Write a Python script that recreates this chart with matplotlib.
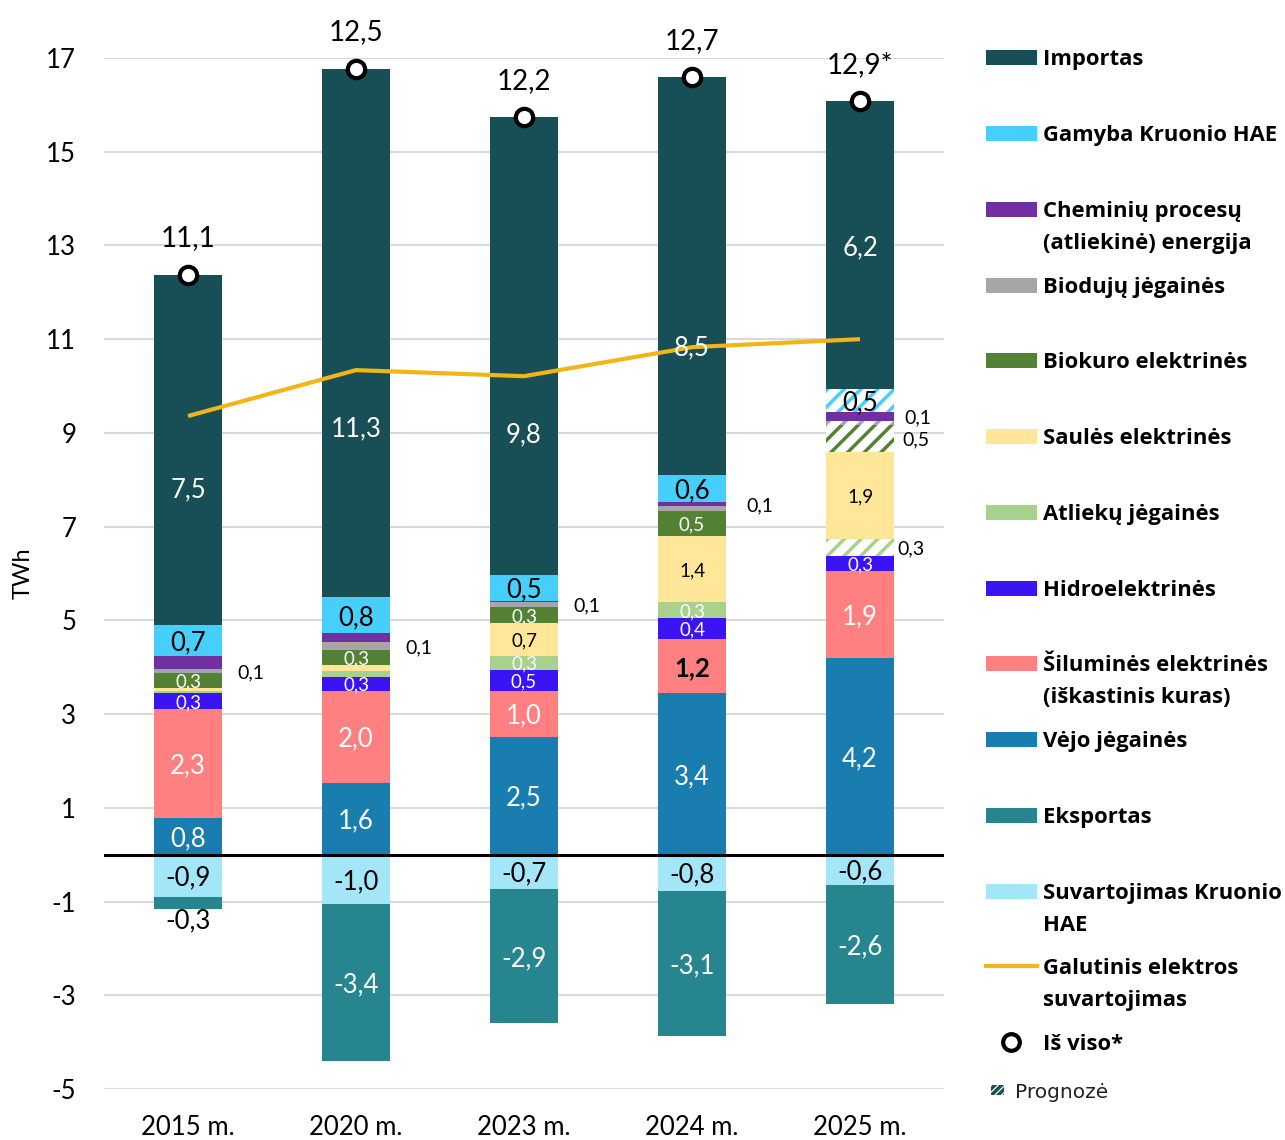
import matplotlib
matplotlib.use("Agg")
import matplotlib.pyplot as plt
from matplotlib.patches import Rectangle
from matplotlib.lines import Line2D
import numpy as np

plt.rcParams['font.family'] = ['Lato', 'DejaVu Sans']
plt.rcParams['hatch.linewidth'] = 2.5
plt.rcParams['axes.unicode_minus'] = False

# ---------------- data ----------------
years = ['2015 m.', '2020 m.', '2023 m.', '2024 m.', '2025 m.']

wind       = [0.78, 1.54, 2.52, 3.44, 4.20]
thermal    = [2.33, 1.96, 0.98, 1.17, 1.86]
hydro      = [0.34, 0.30, 0.44, 0.43, 0.31]
waste      = [0.05, 0.12, 0.31, 0.35, 0.36]
solar      = [0.06, 0.12, 0.69, 1.40, 1.87]
biofuel    = [0.31, 0.33, 0.34, 0.55, 0.57]
biogas     = [0.10, 0.16, 0.11, 0.10, 0.08]
chemical   = [0.26, 0.20, 0.03, 0.085, 0.20]
kruonio_g  = [0.68, 0.77, 0.55, 0.58, 0.48]
imports    = [7.47, 11.27, 9.77, 8.49, 6.15]
kruonio_c  = [-0.90, -1.05, -0.73, -0.77, -0.64]
exports    = [-0.26, -3.35, -2.86, -3.09, -2.54]
final_cons = [9.36, 10.34, 10.21, 10.83, 11.00]
total_lbl  = ['11,1', '12,5', '12,2', '12,7', '12,9*']

wind_lbl     = ['0,8', '1,6', '2,5', '3,4', '4,2']
thermal_lbl  = ['2,3', '2,0', '1,0', '1,2', '1,9']
hydro_lbl    = ['0,3', '0,3', '0,5', '0,4', '0,3']
waste_lbl    = [None, None, '0,3', '0,3', '0,3']
solar_lbl    = [None, None, '0,7', '1,4', '1,9']
biofuel_lbl  = ['0,3', '0,3', '0,3', '0,5', '0,5']
biogas_lbl   = ['0,1', '0,1', '0,1', None, None]
chemical_lbl = [None, None, None, '0,1', '0,1']
kruonio_lbl  = ['0,7', '0,8', '0,5', '0,6', '0,5']
import_lbl   = ['7,5', '11,3', '9,8', '8,5', '6,2']
cons_lbl     = ['-0,9', '-1,0', '-0,7', '-0,8', '-0,6']
export_lbl   = ['-0,3', '-3,4', '-2,9', '-3,1', '-2,6']

forecast = [False, False, False, False, True]

# ---------------- style ----------------
C_IMP = '#184E55'
C_KRG = '#45CFFA'
C_CHE = '#7030A0'
C_BGS = '#A6A6A6'
C_BIO = '#548235'
C_SOL = '#FFE699'
C_WST = '#A9D18E'
C_HYD = '#3A14F2'
C_THR = '#FF8080'
C_WND = '#1A7DB0'
C_EXP = '#26858F'
C_KRC = '#A3E6F8'
C_LINE = '#F2B517'

BIG = 18.5
SMALL = 13.5
OUT = 14

# series: values, labels, colour, hatched-in-forecast, label colour, size
pos_series = [
    (wind, wind_lbl, C_WND, False, 'white', BIG),
    (thermal, thermal_lbl, C_THR, False, 'white', BIG),
    (hydro, hydro_lbl, C_HYD, False, 'white', SMALL),
    (waste, waste_lbl, C_WST, True, 'white', SMALL),
    (solar, solar_lbl, C_SOL, False, 'black', SMALL),
    (biofuel, biofuel_lbl, C_BIO, True, 'white', SMALL),
    (biogas, biogas_lbl, C_BGS, True, 'black', SMALL),
    (chemical, chemical_lbl, C_CHE, False, 'black', SMALL),
    (kruonio_g, kruonio_lbl, C_KRG, True, 'black', BIG),
    (imports, import_lbl, C_IMP, False, 'white', BIG),
]
neg_series = [
    (kruonio_c, cons_lbl, C_KRC, False, 'black', BIG),
    (exports, export_lbl, C_EXP, False, 'white', BIG),
]

# labels placed outside to the right of the bar: (series index, year) -> x offset in px
outside = {(6, 0): 15, (6, 1): 15, (6, 2): 15, (7, 3): 20, (7, 4): 10,
           (5, 4): 8, (3, 4): 3}
# label vertical positions that Excel placed off-centre (series index, year) -> y
label_y = {(9, 0): 7.84, (9, 1): 9.15, (9, 2): 9.02, (9, 3): 10.87}

fig = plt.figure(figsize=(12.85, 11.4), dpi=100)
ax = fig.add_axes([104 / 1285, 1 - 1089 / 1140, 840 / 1285, (1089 - 58) / 1140])

x = np.arange(len(years))
W = 0.405
PX = 1 / 168.0  # data units per pixel horizontally


def draw_stack(series, sign):
    bottom = np.zeros(len(years))
    for si, (vals, lbls, col, hatchable, lcol, fs) in enumerate(series):
        vals = np.array(vals, dtype=float)
        for i in range(len(years)):
            if hatchable and forecast[i]:
                ax.bar(x[i], vals[i], W, bottom=bottom[i], facecolor='white',
                       edgecolor=col, hatch='//', linewidth=0, zorder=2)
            else:
                ax.bar(x[i], vals[i], W, bottom=bottom[i], color=col,
                       linewidth=0, zorder=2)
            lbl = lbls[i]
            if lbl is None:
                continue
            yc = bottom[i] + vals[i] / 2
            key = (si, i)
            if sign > 0 and key in label_y:
                yc = label_y[key]
            if sign > 0 and key in outside:
                ax.text(x[i] + W / 2 + outside[key] * PX, yc, lbl,
                        ha='left', va='center_baseline', fontsize=OUT,
                        color='black', zorder=5)
                continue
            color = lcol
            weight = 'normal'
            if sign > 0 and si == 1 and i == 3:
                color, weight = 'black', 'bold'
            if sign < 0 and si == 1 and i == 0:
                ax.text(x[i], bottom[i] + vals[i] - 0.2, lbl,
                        ha='center', va='center_baseline',
                        fontsize=fs, color='black', zorder=5)
                continue
            ax.text(x[i], yc, lbl, ha='center', va='center_baseline',
                    fontsize=fs, color=color, fontweight=weight, zorder=5)
        bottom = bottom + vals
    return bottom


top = draw_stack(pos_series, +1)
draw_stack(neg_series, -1)

# final consumption line
ax.plot(x, final_cons, color=C_LINE, linewidth=3, zorder=4, solid_capstyle='butt')

# total markers at top of positive stack
ax.plot(x, top, linestyle='none', marker='o', markersize=12.5,
        markerfacecolor='white', markeredgecolor='black',
        markeredgewidth=3, zorder=6, clip_on=False)
for i in range(len(years)):
    ax.annotate(total_lbl[i], (x[i], top[i]), xytext=(0, 28),
                textcoords='offset points', ha='center',
                va='center_baseline', fontsize=20, zorder=6,
                annotation_clip=False)

ax.axhline(0, color='black', linewidth=2.2, zorder=3)

ax.set_xlim(-0.5, 4.5)
ax.set_ylim(-5, 17)
ax.set_yticks([17, 15, 13, 11, 9, 7, 5, 3, 1, -1, -3, -5])
ax.set_xticks(x)
ax.set_xticklabels(years)
ax.tick_params(axis='both', length=0, labelsize=18.5)
ax.tick_params(axis='y', pad=20)
ax.tick_params(axis='x', pad=19)
ax.grid(axis='y', color='#D9D9D9', linewidth=1.5, zorder=0)
ax.set_axisbelow(True)
for s in ax.spines.values():
    s.set_visible(False)
ax.set_ylabel('TWh', fontsize=17, labelpad=9)

# ---------------- legend (pixel coordinates overlay) ----------------
lg = fig.add_axes([0, 0, 1, 1], zorder=10)
lg.set_xlim(0, 1285)
lg.set_ylim(1140, 0)
lg.axis('off')
lg.patch.set_alpha(0)

legend_items = [
    ('patch', C_IMP, ['Importas'], 57),
    ('patch', C_KRG, ['Gamyba Kruonio HAE'], 133),
    ('patch', C_CHE, ['Cheminių procesų', '(atliekinė) energija'], 209),
    ('patch', C_BGS, ['Biodujų jėgainės'], 285),
    ('patch', C_BIO, ['Biokuro elektrinės'], 360),
    ('patch', C_SOL, ['Saulės elektrinės'], 436),
    ('patch', C_WST, ['Atliekų jėgainės'], 512),
    ('patch', C_HYD, ['Hidroelektrinės'], 588),
    ('patch', C_THR, ['Šiluminės elektrinės', '(iškastinis kuras)'], 663),
    ('patch', C_WND, ['Vėjo jėgainės'], 739),
    ('patch', C_EXP, ['Eksportas'], 815),
    ('patch', C_KRC, ['Suvartojimas Kruonio', 'HAE'], 891),
    ('line', C_LINE, ['Galutinis elektros', 'suvartojimas'], 966),
    ('marker', 'black', ['Iš viso*'], 1042),
]
for kind, col, lines, yc in legend_items:
    if kind == 'patch':
        lg.add_patch(Rectangle((986, yc - 7.5), 51, 15, color=col, linewidth=0))
    elif kind == 'line':
        lg.add_line(Line2D([986, 1037], [yc, yc], color=col, linewidth=3))
    else:
        lg.plot([1011], [yc], marker='o', markersize=12, markerfacecolor='white',
                markeredgecolor='black', markeredgewidth=3)
    for k, t in enumerate(lines):
        lg.text(1043, yc + k * 32, t, ha='left', va='center_baseline',
                fontsize=15.8, fontweight='bold', color='black',
                family=['Open Sans', 'DejaVu Sans'])

lg.add_patch(Rectangle((991, 1085), 13, 10, facecolor='white', edgecolor=C_IMP,
                       hatch='/////', linewidth=0))
lg.text(1015, 1090, 'Prognozė', ha='left', va='center_baseline', fontsize=14.5,
        color='#222222', family=['DejaVu Sans'])

fig.savefig('out.png', dpi=100, facecolor='white')
